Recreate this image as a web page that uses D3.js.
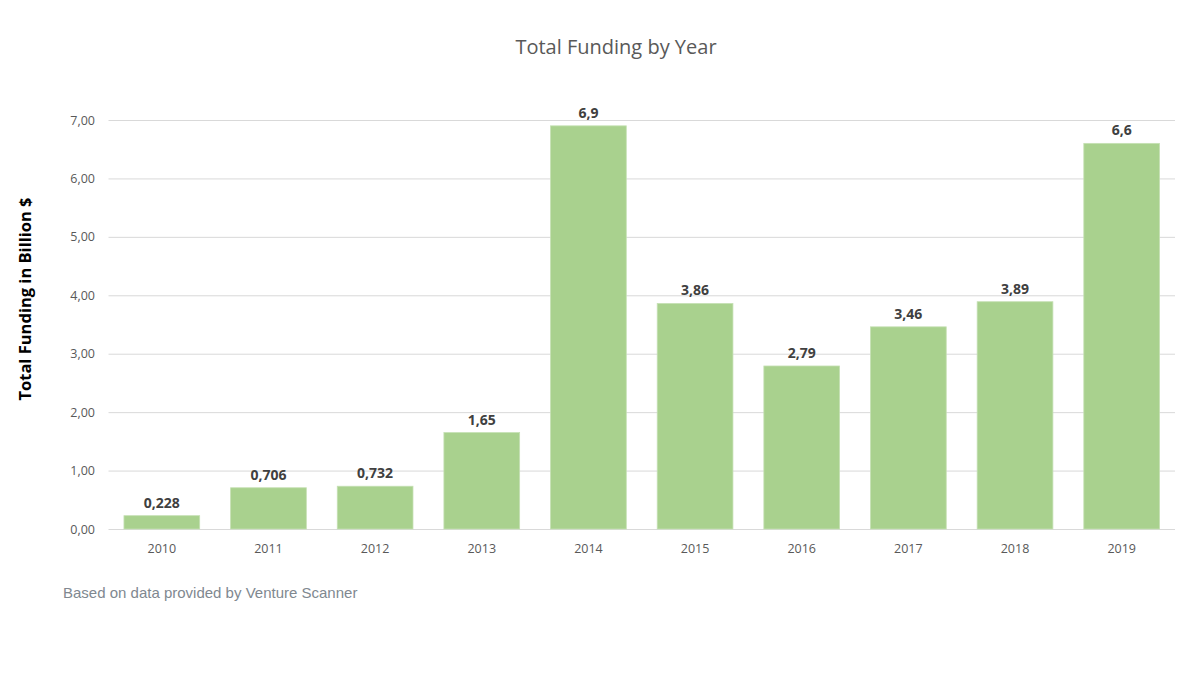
<!DOCTYPE html>
<html><head><meta charset="utf-8">
<script src="https://cdn.jsdelivr.net/npm/d3@7"></script>
<style>body{margin:0;background:#fff}</style>
</head><body><svg id="c" width="1200" height="675"></svg>
<script>
const years = ["2010","2011","2012","2013","2014","2015","2016","2017","2018","2019"];
const funding = [0.228,0.706,0.732,1.65,6.9,3.86,2.79,3.46,3.89,6.6];
const valueLabels = ["0,228","0,706","0,732","1,65","6,9","3,86","2,79","3,46","3,89","6,6"];
const yTicks = [0,1,2,3,4,5,6,7];

const svg = d3.select("#c");
const font = "'Open Sans', 'Noto Sans', sans-serif";
const x = d3.scaleBand().domain(years).range([108.5,1175]).paddingInner(0.29).paddingOuter(0.145);
const y = d3.scaleLinear().domain([0,7]).range([529,120]);

svg.append("g").selectAll("line").data(yTicks).join("line")
  .attr("x1",108.5).attr("x2",1175).attr("y1",d=>y(d)+0.5).attr("y2",d=>y(d)+0.5)
  .attr("stroke","#d9d9d9").attr("stroke-width",1);

svg.append("g").selectAll("text").data(yTicks).join("text")
  .attr("x",95).attr("y",d=>y(d)+4.5).attr("text-anchor","end")
  .attr("font-family",font).attr("font-size",12.5).attr("fill","#595959")
  .text(d=>d3.format(".2f")(d).replace(".",","));

const idx = d3.range(years.length);
svg.append("g").selectAll("rect").data(idx).join("rect")
  .attr("x",i=>x(years[i])).attr("width",x.bandwidth())
  .attr("y",i=>y(funding[i])).attr("height",i=>y(0)-y(funding[i]))
  .attr("fill","#a9d18e").attr("stroke","#c5e0b3").attr("stroke-width",0.8);

svg.append("g").selectAll("text").data(idx).join("text")
  .attr("x",i=>x(years[i])+x.bandwidth()/2).attr("y",i=>y(funding[i])-8)
  .attr("text-anchor","middle").attr("font-family",font).attr("font-weight","bold")
  .attr("font-size",14).attr("fill","#404040").text(i=>valueLabels[i]);

svg.append("g").selectAll("text").data(years).join("text")
  .attr("x",d=>x(d)+x.bandwidth()/2).attr("y",553)
  .attr("text-anchor","middle").attr("font-family",font)
  .attr("font-size",12.5).attr("fill","#595959").text(d=>d);

svg.append("text").attr("x",616).attr("y",54).attr("text-anchor","middle")
  .attr("font-family",font).attr("font-size",20).attr("fill","#595959").text("Total Funding by Year");

svg.append("text").attr("transform","translate(31,299) rotate(-90)").attr("text-anchor","middle")
  .attr("font-family",font).attr("font-weight","bold").attr("font-size",16.5).attr("fill","#000")
  .text("Total Funding in Billion $");

svg.append("text").attr("x",63).attr("y",598)
  .attr("font-family","'Liberation Sans', Arial, sans-serif").attr("font-size",15).attr("fill","#808890")
  .text("Based on data provided by Venture Scanner");
</script></body></html>
